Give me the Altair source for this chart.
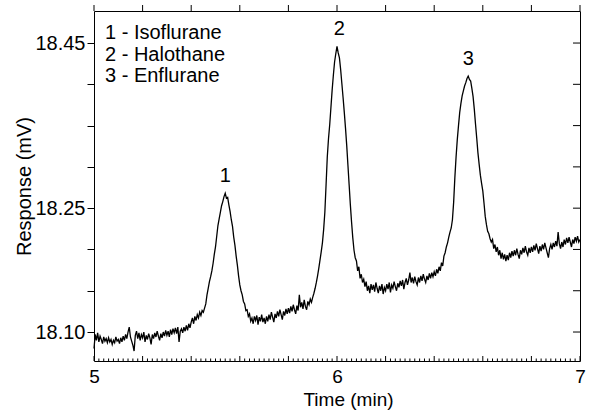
import altair as alt
import pandas as pd

# ---- data (5.000 .. 7.000 min, step 0.005 min)
t_start = 5.0
t_step = 0.005
response = [
    # 5.0
    18.080, 18.097, 18.090, 18.099, 18.088, 18.095, 18.091, 18.086, 18.094, 18.089,
    18.092, 18.087, 18.093, 18.088, 18.091, 18.085, 18.090, 18.087, 18.094, 18.089,
    # 5.1
    18.091, 18.086, 18.093, 18.088, 18.095, 18.090, 18.097, 18.092, 18.100, 18.106,
    18.094, 18.089, 18.084, 18.077, 18.096, 18.101, 18.092, 18.099, 18.090, 18.097,
    # 5.2
    18.093, 18.100, 18.088, 18.096, 18.091, 18.098, 18.093, 18.085, 18.097, 18.092,
    18.099, 18.094, 18.101, 18.095, 18.090, 18.098, 18.093, 18.100, 18.095, 18.102,
    # 5.3
    18.096, 18.101, 18.094, 18.103, 18.097, 18.104, 18.099, 18.105, 18.098, 18.106,
    18.088, 18.101, 18.104, 18.099, 18.106, 18.101, 18.108, 18.102, 18.110, 18.105,
    # 5.4
    18.112, 18.117, 18.110, 18.119, 18.114, 18.121, 18.117, 18.124, 18.120, 18.126,
    18.124, 18.129, 18.134, 18.145, 18.153, 18.161, 18.167, 18.174, 18.183, 18.194,
    # 5.5
    18.203, 18.216, 18.229, 18.237, 18.245, 18.253, 18.258, 18.264, 18.268, 18.262,
    18.263, 18.254, 18.246, 18.236, 18.228, 18.215, 18.205, 18.192, 18.181, 18.168,
    # 5.6
    18.157, 18.150, 18.145, 18.137, 18.134, 18.126, 18.127, 18.119, 18.122, 18.113,
    18.117, 18.110, 18.119, 18.114, 18.120, 18.109, 18.118, 18.113, 18.121, 18.112,
    # 5.7
    18.117, 18.110, 18.119, 18.113, 18.121, 18.115, 18.124, 18.118, 18.112, 18.122,
    18.117, 18.125, 18.119, 18.127, 18.121, 18.115, 18.125, 18.120, 18.128, 18.122,
    # 5.8
    18.129, 18.123, 18.131, 18.125, 18.133, 18.127, 18.122, 18.132, 18.126, 18.145,
    18.130, 18.136, 18.128, 18.139, 18.131, 18.127, 18.137, 18.133, 18.140, 18.136,
    # 5.9
    18.142, 18.147, 18.153, 18.160, 18.168, 18.177, 18.187, 18.197, 18.208, 18.224,
    18.245, 18.278, 18.312, 18.334, 18.351, 18.372, 18.393, 18.411, 18.427, 18.437,
    # 6.0
    18.446, 18.438, 18.432, 18.418, 18.401, 18.384, 18.366, 18.347, 18.326, 18.302,
    18.278, 18.254, 18.233, 18.214, 18.199, 18.190, 18.186, 18.174, 18.179, 18.165,
    # 6.1
    18.170, 18.160, 18.164, 18.155, 18.161, 18.150, 18.156, 18.147, 18.158, 18.151,
    18.157, 18.149, 18.160, 18.153, 18.147, 18.156, 18.150, 18.158, 18.146, 18.154,
    # 6.2
    18.150, 18.158, 18.152, 18.160, 18.148, 18.157, 18.153, 18.161, 18.155, 18.150,
    18.159, 18.154, 18.162, 18.156, 18.163, 18.152, 18.160, 18.165, 18.157, 18.163,
    # 6.3
    18.172, 18.160, 18.166, 18.159, 18.167, 18.161, 18.157, 18.166, 18.160, 18.168,
    18.162, 18.170, 18.164, 18.160, 18.168, 18.163, 18.171, 18.165, 18.172, 18.167,
    # 6.4
    18.173, 18.168, 18.176, 18.171, 18.179, 18.174, 18.184, 18.180, 18.192, 18.196,
    18.203, 18.208, 18.215, 18.221, 18.226, 18.236, 18.257, 18.287, 18.312, 18.333,
    # 6.5
    18.350, 18.366, 18.377, 18.386, 18.392, 18.398, 18.402, 18.407, 18.410, 18.406,
    18.404, 18.395, 18.385, 18.370, 18.352, 18.335, 18.317, 18.303, 18.290, 18.280,
    # 6.6
    18.271, 18.256, 18.240, 18.230, 18.222, 18.219, 18.213, 18.209, 18.212, 18.201,
    18.206, 18.197, 18.203, 18.193, 18.199, 18.189, 18.196, 18.188, 18.194, 18.186,
    # 6.7
    18.193, 18.187, 18.196, 18.190, 18.198, 18.192, 18.199, 18.193, 18.201, 18.194,
    18.189, 18.199, 18.194, 18.202, 18.196, 18.204, 18.197, 18.193, 18.202, 18.196,
    # 6.8
    18.203, 18.197, 18.205, 18.199, 18.207, 18.201, 18.195, 18.204, 18.198, 18.206,
    18.200, 18.208, 18.202, 18.196, 18.190, 18.201, 18.206, 18.200, 18.208, 18.203,
    # 6.9 .. 7.0
    18.210, 18.204, 18.221, 18.207, 18.201, 18.209, 18.203, 18.212, 18.206, 18.214,
    18.208, 18.215, 18.209, 18.203, 18.212, 18.207, 18.215, 18.210, 18.216, 18.209,
    18.212,
]
times = [round(t_start + i * t_step, 3) for i in range(len(response))]

peak_ids = ["1", "2", "3"]
peak_times = [5.54, 6.01, 6.54]
peak_tops = [18.268, 18.446, 18.410]

legend_lines = ["1 - Isoflurane", "2 - Halothane", "3 - Enflurane"]

x_major = [5.0, 5.2, 5.4, 5.6, 5.8, 6.0, 6.2, 6.4, 6.6, 6.8, 7.0]
x_labels = [5.0, 6.0, 7.0]
x_minor = [round(5 + 0.02 * i, 2) for i in range(101) if i % 10]
y_ticks = [18.10, 18.15, 18.20, 18.25, 18.30, 18.35, 18.40, 18.45]
y_labels = ["18.10", "18.25", "18.45"]

x_domain = [5.0, 7.0]
y_domain = [18.0649, 18.4888]

W, H = 486, 350
FONT = "Liberation Sans"

df = pd.DataFrame({"t": times, "v": response})
peaks = pd.DataFrame({"t": peak_times, "v": peak_tops, "id": peak_ids})
xmaj = pd.DataFrame({"t": x_major})
xmin = pd.DataFrame({"t": x_minor})
yt = pd.DataFrame({"v": y_ticks})

xs = alt.Scale(domain=x_domain, nice=False, zero=False)
ys = alt.Scale(domain=y_domain, nice=False, zero=False)

label_test = " || ".join(f"datum.label == '{l}'" for l in y_labels)

x_axis = alt.Axis(values=x_labels, format=".0f", ticks=False, domain=False,
                  grid=False, labelFontSize=19, labelFont=FONT,
                  labelColor="black", labelBaseline="top",
                  labelPadding=6, labelFlush=False, labelOverlap=False,
                  titleFontSize=19, titleFont=FONT, titleFontWeight="normal",
                  titleColor="black", titleX=254, titleY=44,
                  titleBaseline="alphabetic")
y_axis = alt.Axis(values=y_ticks, format=".2f",
                  labelExpr=f"({label_test}) ? datum.label : ''",
                  tickSize=7, tickColor="black", tickWidth=1,
                  domain=False, grid=False, labelFontSize=20,
                  labelFont=FONT, labelColor="black", labelPadding=2,
                  labelOverlap=False,
                  titleFontSize=20, titleFont=FONT, titleFontWeight="normal",
                  titleColor="black", titleX=-70, titleY=175,
                  titleAlign="center", titleBaseline="middle")

X = alt.X("t:Q", scale=xs, title="Time (min)", axis=x_axis)
Y = alt.Y("v:Q", scale=ys, title="Response (mV)", axis=y_axis)

line = alt.Chart(df).mark_line(color="black", strokeWidth=1.3).encode(x=X, y=Y)

bottom_major = alt.Chart(xmaj).mark_rule(color="black", strokeWidth=1).encode(
    x=X, y=alt.value(H), y2=alt.value(H - 5))
bottom_minor = alt.Chart(xmin).mark_rule(color="black", strokeWidth=1).encode(
    x=X, y=alt.value(H), y2=alt.value(H - 2.5))
top_major = alt.Chart(xmaj).mark_rule(color="black", strokeWidth=1).encode(
    x=X, y=alt.value(0), y2=alt.value(-6))
right_ticks = alt.Chart(yt).mark_rule(color="black", strokeWidth=1).encode(
    y=Y, x=alt.value(W), x2=alt.value(W - 7))

peak_text = alt.Chart(peaks).mark_text(
    font=FONT, fontSize=20, color="black", baseline="alphabetic", dy=-11
).encode(x=X, y=Y, text="id:N")

legend = alt.Chart(pd.DataFrame({"a": [0]})).mark_text(
    font=FONT, fontSize=20, color="black", align="left", baseline="alphabetic",
    lineHeight=21.5, text=legend_lines
).encode(x=alt.value(11), y=alt.value(28))

chart = alt.layer(line, bottom_major, bottom_minor, top_major, right_ticks,
                  peak_text, legend).properties(
    width=W, height=H,
    autosize=alt.AutoSizeParams(type="none"),
    padding={"left": 94, "top": 11, "right": 9, "bottom": 49},
).configure_view(stroke="black", strokeWidth=1)

chart.save("out.html", embed_options={"renderer": "svg", "actions": False})
